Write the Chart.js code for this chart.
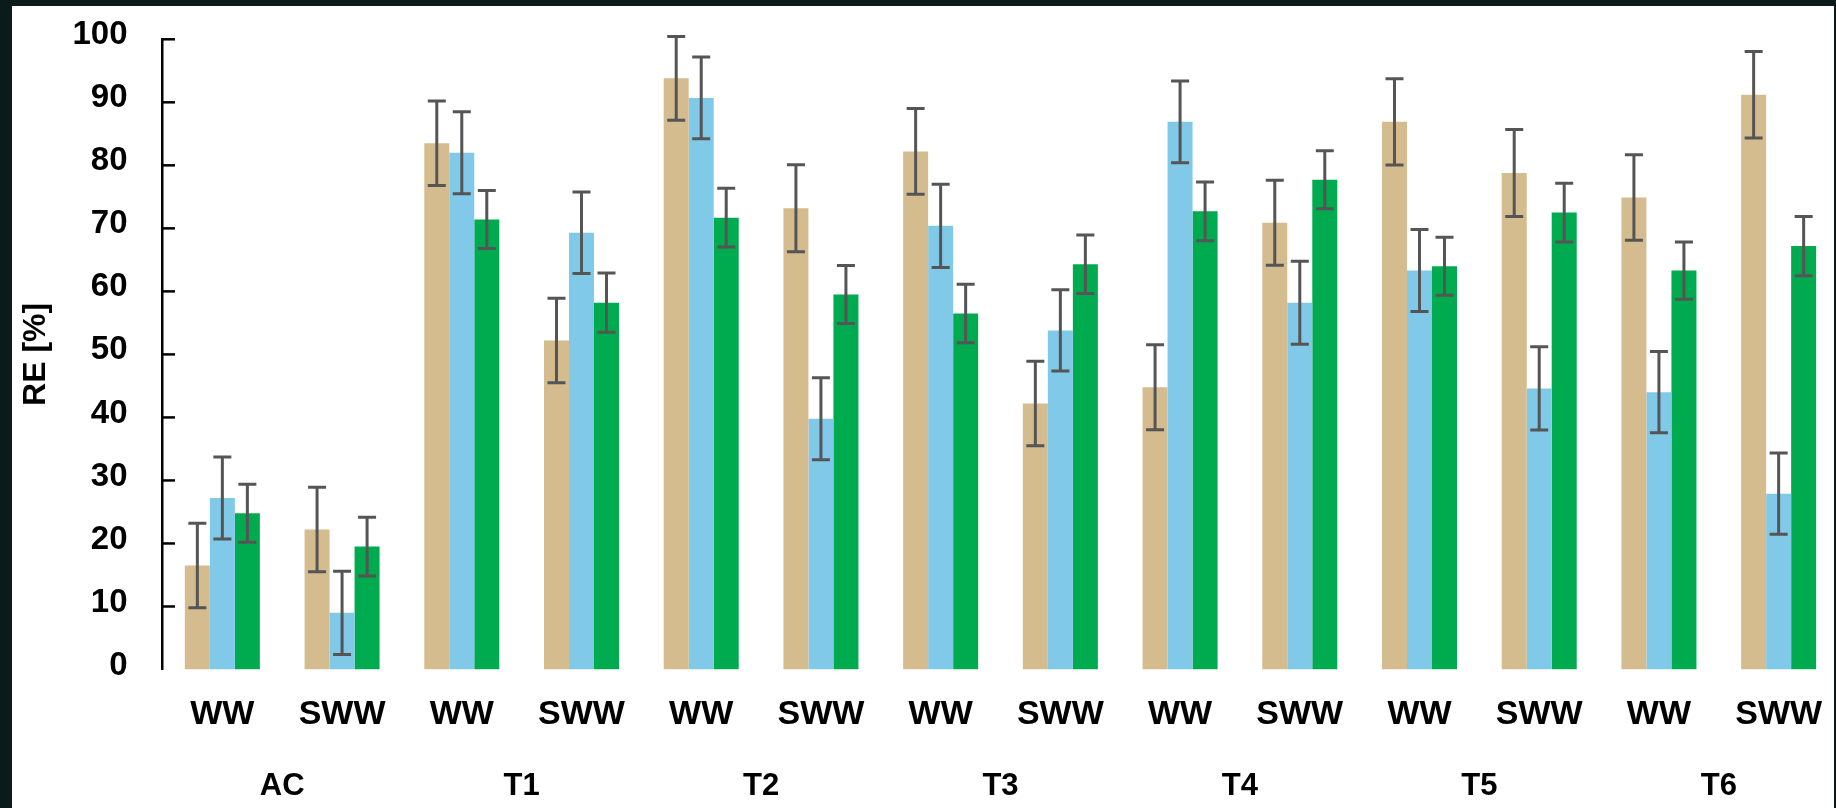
<!DOCTYPE html>
<html>
<head>
<meta charset="utf-8">
<script src="https://cdn.jsdelivr.net/npm/chart.js@4/dist/chart.umd.min.js"></script>
<style>
  html, body { margin: 0; padding: 0; width: 1836px; height: 808px; overflow: hidden; background: #0b1b19; }
  #panel { position: absolute; left: 12px; top: 6px; width: 1822px; height: 802px; background: #ffffff; }
  #wrap { position: absolute; left: 0; top: 0; width: 1840px; height: 808px; }
</style>
</head>
<body>
<div id="panel"></div>
<div id="wrap"><canvas id="c" width="1840" height="808"></canvas></div>
<script>
// Sample types per treatment, and the treatment groups beneath them
const categories = ['WW', 'SWW', 'WW', 'SWW', 'WW', 'SWW', 'WW', 'SWW', 'WW', 'SWW', 'WW', 'SWW', 'WW', 'SWW'];
const groups = ['AC', 'T1', 'T2', 'T3', 'T4', 'T5', 'T6'];
const yTicks = [0, 10, 20, 30, 40, 50, 60, 70, 80, 90, 100];

// Removal efficiency (%) and standard deviation for each of the three series
const series1 = [16.5, 22.2, 83.5, 52.2, 93.8, 73.2, 82.2, 42.2, 44.8, 70.9, 86.9, 78.8, 74.9, 91.2];
const series1Err = [6.7, 6.7, 6.7, 6.7, 6.65, 6.9, 6.8, 6.7, 6.75, 6.75, 6.85, 6.9, 6.8, 6.85];
const series2 = [27.2, 9.0, 82.0, 69.3, 90.7, 39.8, 70.4, 53.8, 86.9, 58.2, 63.3, 44.6, 44.0, 27.9];
const series2Err = [6.5, 6.6, 6.5, 6.45, 6.5, 6.5, 6.6, 6.45, 6.5, 6.6, 6.5, 6.6, 6.45, 6.45];
const series3 = [24.8, 19.5, 71.4, 58.2, 71.7, 59.5, 56.5, 64.3, 72.7, 77.7, 64.0, 72.5, 63.3, 67.2];
const series3Err = [4.6, 4.65, 4.6, 4.7, 4.65, 4.6, 4.65, 4.65, 4.65, 4.6, 4.6, 4.65, 4.55, 4.7];

const FONT = '"Liberation Sans", Arial, sans-serif';

// Vertical error bars with flat caps, centred on each bar
const errorBars = {
  id: 'errorBars',
  afterDatasetsDraw(chart) {
    const ctx = chart.ctx;
    const y = chart.scales.y;
    ctx.save();
    ctx.strokeStyle = '#555555';
    ctx.lineWidth = 3;
    ctx.lineCap = 'butt';
    chart.data.datasets.forEach((ds, i) => {
      const meta = chart.getDatasetMeta(i);
      meta.data.forEach((bar, j) => {
        const v = ds.data[j], e = ds.errors[j];
        const top = y.getPixelForValue(v + e);
        const bot = y.getPixelForValue(v - e);
        const half = 9;
        ctx.beginPath();
        ctx.moveTo(bar.x, top); ctx.lineTo(bar.x, bot);
        ctx.moveTo(bar.x - half, top); ctx.lineTo(bar.x + half, top);
        ctx.moveTo(bar.x - half, bot); ctx.lineTo(bar.x + half, bot);
        ctx.stroke();
      });
    });
    ctx.restore();
  }
};

// Short tick marks pointing into the plot from the value axis
const innerTicks = {
  id: 'innerTicks',
  afterDraw(chart) {
    const ctx = chart.ctx;
    const y = chart.scales.y;
    const x0 = chart.chartArea.left;
    ctx.save();
    ctx.strokeStyle = '#000000';
    ctx.lineWidth = 2.5;
    yTicks.forEach(t => {
      if (t === 0) return;
      const py = y.getPixelForValue(t);
      ctx.beginPath();
      ctx.moveTo(x0, py); ctx.lineTo(x0 + 12.5, py);
      ctx.stroke();
    });
    ctx.restore();
  }
};

new Chart(document.getElementById('c'), {
  type: 'bar',
  data: {
    labels: categories,
    datasets: [
      { label: 'Series 1', data: series1, errors: series1Err, backgroundColor: '#D5BC8E' },
      { label: 'Series 2', data: series2, errors: series2Err, backgroundColor: '#80C9E8' },
      { label: 'Series 3', data: series3, errors: series3Err, backgroundColor: '#00AB4F' }
    ]
  },
  options: {
    responsive: false,
    animation: false,
    devicePixelRatio: 1,
    layout: { padding: { left: 0, right: 1.5, top: 39.3, bottom: 0 } },
    datasets: { bar: { categoryPercentage: 0.6266, barPercentage: 1.0 } },
    plugins: { legend: { display: false }, tooltip: { enabled: false } },
    scales: {
      y: {
        min: 0, max: 100,
        afterBuildTicks(scale) { scale.ticks = yTicks.map(v => ({ value: v })); },
        afterFit(scale) { scale.width = 162.5; scale.paddingTop = 0; scale.paddingBottom = 0; },
        grid: { display: false, drawTicks: false },
        border: { display: true, color: '#000000', width: 2.5 },
        ticks: {
          color: '#000000',
          padding: 35,
          labelOffset: -4,
          font: { family: FONT, size: 33, weight: 'bold' }
        },
        title: {
          display: true,
          text: 'RE [%]',
          color: '#000000',
          padding: { top: 17, bottom: 0 },
          font: { family: FONT, size: 32, weight: 'bold' }
        }
      },
      x: {
        type: 'category',
        position: 'bottom',
        weight: 0,
        offset: true,
        afterFit(scale) { scale.height = 70; scale.paddingLeft = 0; scale.paddingRight = 0; },
        grid: { display: false, drawTicks: false },
        border: { display: false },
        ticks: {
          color: '#000000',
          padding: 25,
          autoSkip: false,
          maxRotation: 0,
          font: { family: FONT, size: 34, weight: 'bold' }
        }
      },
      x2: {
        type: 'category',
        position: 'bottom',
        weight: 1,
        labels: groups,
        offset: true,
        afterFit(scale) { scale.height = 68.5; scale.paddingLeft = 0; scale.paddingRight = 0; },
        grid: { display: false, drawTicks: false },
        border: { display: false },
        ticks: {
          color: '#000000',
          padding: 28,
          autoSkip: false,
          maxRotation: 0,
          font: { family: FONT, size: 31, weight: 'bold' }
        }
      }
    }
  },
  plugins: [errorBars, innerTicks]
});
</script>
</body>
</html>
